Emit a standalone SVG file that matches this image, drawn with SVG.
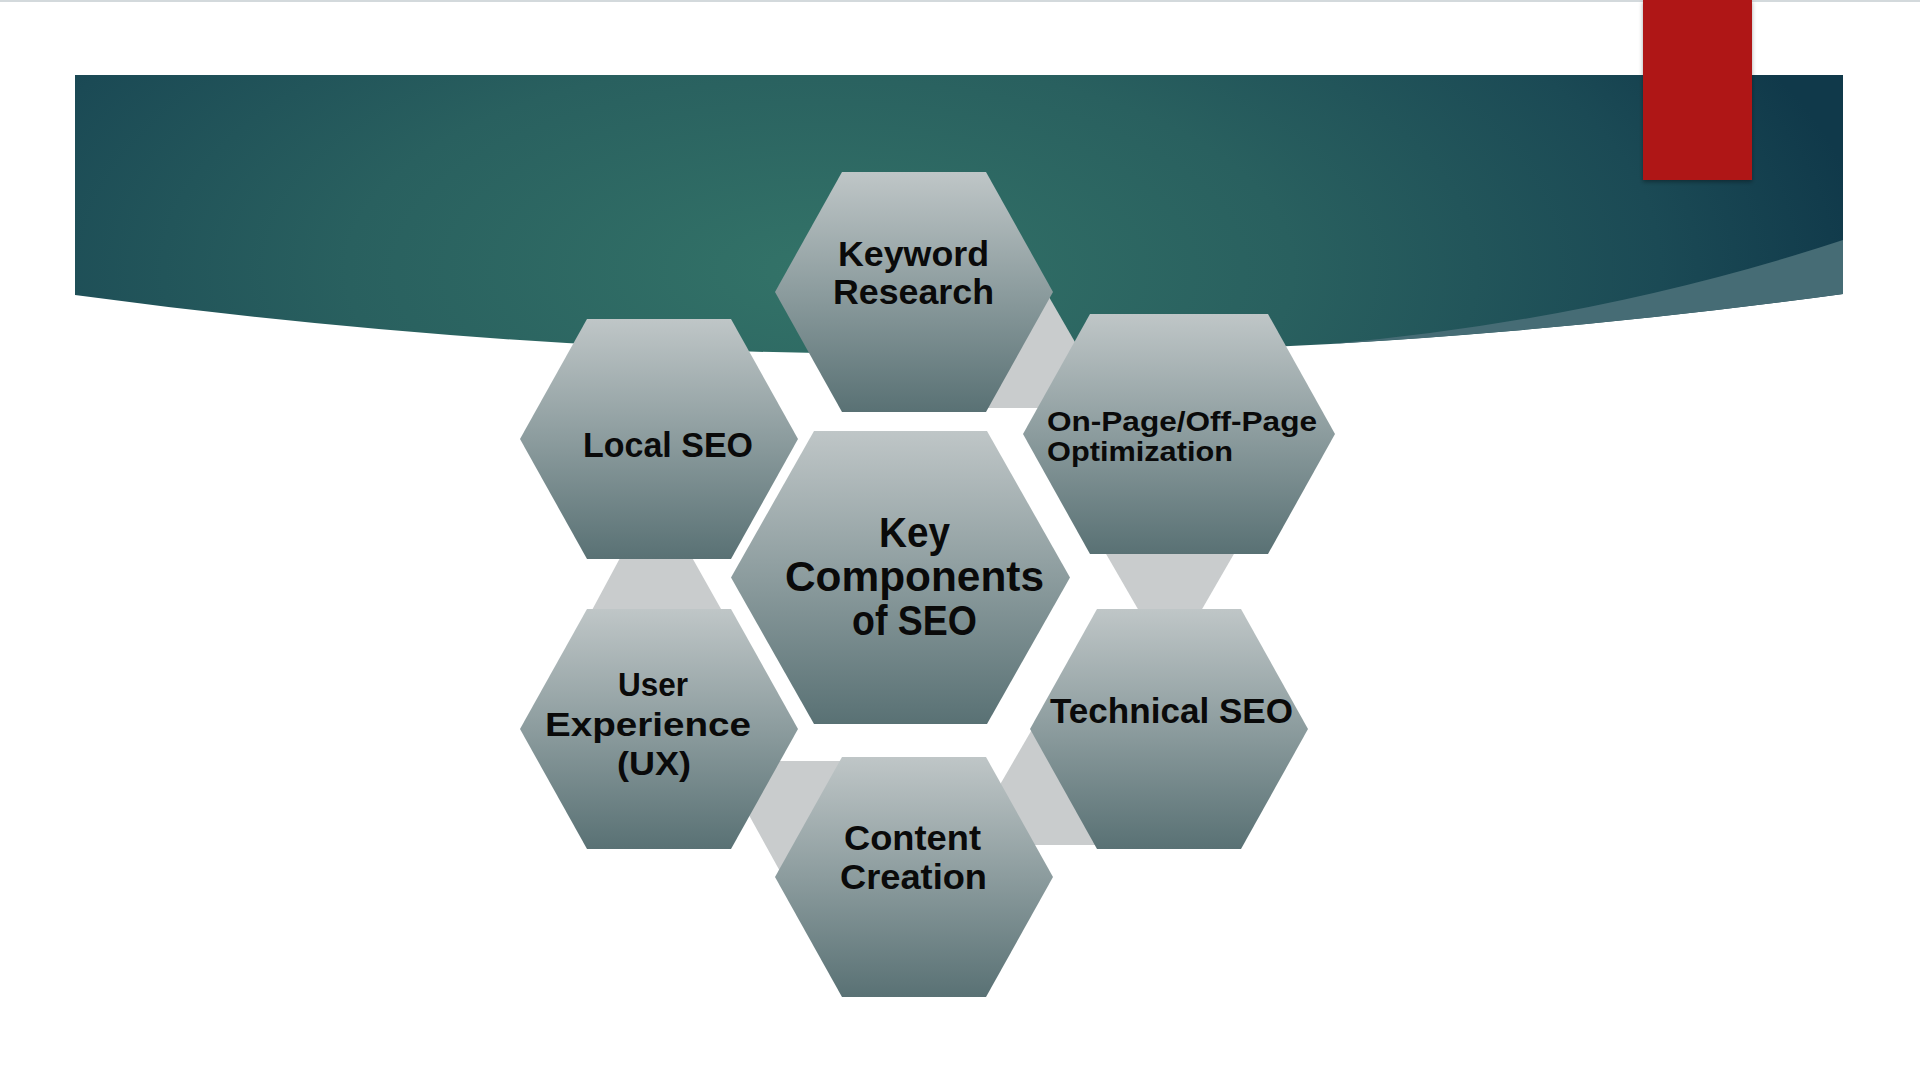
<svg xmlns="http://www.w3.org/2000/svg" width="1920" height="1080" viewBox="0 0 1920 1080">
<defs>
<radialGradient id="bannerGrad" gradientUnits="userSpaceOnUse" cx="820" cy="270" r="1050" gradientTransform="translate(820 270) scale(1 0.45) translate(-820 -270)">
<stop offset="0" stop-color="#337368"/>
<stop offset="0.45" stop-color="#29605f"/>
<stop offset="0.8" stop-color="#1b4a55"/>
<stop offset="1" stop-color="#10394a"/>
</radialGradient>
<linearGradient id="hexGrad" x1="0" y1="0" x2="0" y2="1">
<stop offset="0" stop-color="#bfc6c7"/>
<stop offset="0.5" stop-color="#8c9c9e"/>
<stop offset="1" stop-color="#597174"/>
</linearGradient>
<filter id="shadow" x="-20%" y="-20%" width="140%" height="140%">
<feDropShadow dx="0" dy="2" stdDeviation="2" flood-color="#000" flood-opacity="0.35"/>
</filter>
</defs>
<style>
.hex { fill: url(#hexGrad); }
.band { fill: #c9cccd; }
.lbl { font-family: "Liberation Sans", Arial, sans-serif; font-weight: bold; fill: #0a0a0a; text-anchor: middle; }
.lblL { font-family: "Liberation Sans", Arial, sans-serif; font-weight: bold; fill: #0a0a0a; text-anchor: start; }
</style>
<rect x="0" y="0" width="1920" height="1080" fill="#ffffff"/>
<rect x="0" y="0" width="1920" height="2" fill="#d3d9dc"/>
<g id="banner">
<path d="M75,75 L1843,75 L1843,294 Q959,415 75,295 Z" fill="url(#bannerGrad)"/>
<path d="M1843,240 Q1600,320 1330,344 Q1587,329 1843,294 Z" fill="#466c75"/>
</g>
<rect id="accent" x="1643" y="0" width="109" height="180" fill="#af1915" filter="url(#shadow)"/>
<g id="connectors">
<polygon class="band" points="1030,264 1113,408 960,408"/>
<polygon class="band" points="1098,540 1242,540 1190,630 1150,630"/>
<polygon class="band" points="1063,676 965,845 1120,845"/>
<polygon class="band" points="719,761 880,761 818,940"/>
<polygon class="band" points="627,545 685,545 730,625 584,625"/>
</g>
<g id="node-keyword">
<polygon class="hex" points="775,292 842,172 986,172 1053,292 986,412 842,412"/>
<text class="lbl" font-size="35" x="913.5" y="266" textLength="151" lengthAdjust="spacingAndGlyphs">Keyword</text>
<text class="lbl" font-size="35" x="913.5" y="304" textLength="161" lengthAdjust="spacingAndGlyphs">Research</text>
</g>
<g id="node-local">
<polygon class="hex" points="520,439 587,319 731,319 798,439 731,559 587,559"/>
<text class="lbl" font-size="35" x="668" y="457" textLength="170" lengthAdjust="spacingAndGlyphs">Local SEO</text>
</g>
<g id="node-onpage">
<polygon class="hex" points="1023,434 1090,314 1268,314 1335,434 1268,554 1090,554"/>
<text class="lblL" font-size="28" x="1047" y="431" textLength="270" lengthAdjust="spacingAndGlyphs">On-Page/Off-Page</text>
<text class="lblL" font-size="28" x="1047" y="461" textLength="186" lengthAdjust="spacingAndGlyphs">Optimization</text>
</g>
<g id="node-center">
<polygon class="hex" points="731,577.5 814,431 987,431 1070,577.5 987,724 814,724"/>
<text class="lbl" font-size="42" x="914.5" y="547" textLength="71" lengthAdjust="spacingAndGlyphs">Key</text>
<text class="lbl" font-size="42" x="914.5" y="591" textLength="259" lengthAdjust="spacingAndGlyphs">Components</text>
<text class="lbl" font-size="42" x="914.5" y="635" textLength="125" lengthAdjust="spacingAndGlyphs">of SEO</text>
</g>
<g id="node-ux">
<polygon class="hex" points="520,729 587,609 731,609 798,729 731,849 587,849"/>
<text class="lbl" font-size="34" x="653" y="696" textLength="70" lengthAdjust="spacingAndGlyphs">User</text>
<text class="lbl" font-size="34" x="648" y="736" textLength="206" lengthAdjust="spacingAndGlyphs">Experience</text>
<text class="lbl" font-size="34" x="654" y="775" textLength="74" lengthAdjust="spacingAndGlyphs">(UX)</text>
</g>
<g id="node-technical">
<polygon class="hex" points="1030,729 1097,609 1241,609 1308,729 1241,849 1097,849"/>
<text class="lbl" font-size="35" x="1171.5" y="723" textLength="243" lengthAdjust="spacingAndGlyphs">Technical SEO</text>
</g>
<g id="node-content">
<polygon class="hex" points="775,877 842,757 986,757 1053,877 986,997 842,997"/>
<text class="lbl" font-size="35" x="912.5" y="850" textLength="137" lengthAdjust="spacingAndGlyphs">Content</text>
<text class="lbl" font-size="35" x="913.5" y="889" textLength="147" lengthAdjust="spacingAndGlyphs">Creation</text>
</g>
</svg>
